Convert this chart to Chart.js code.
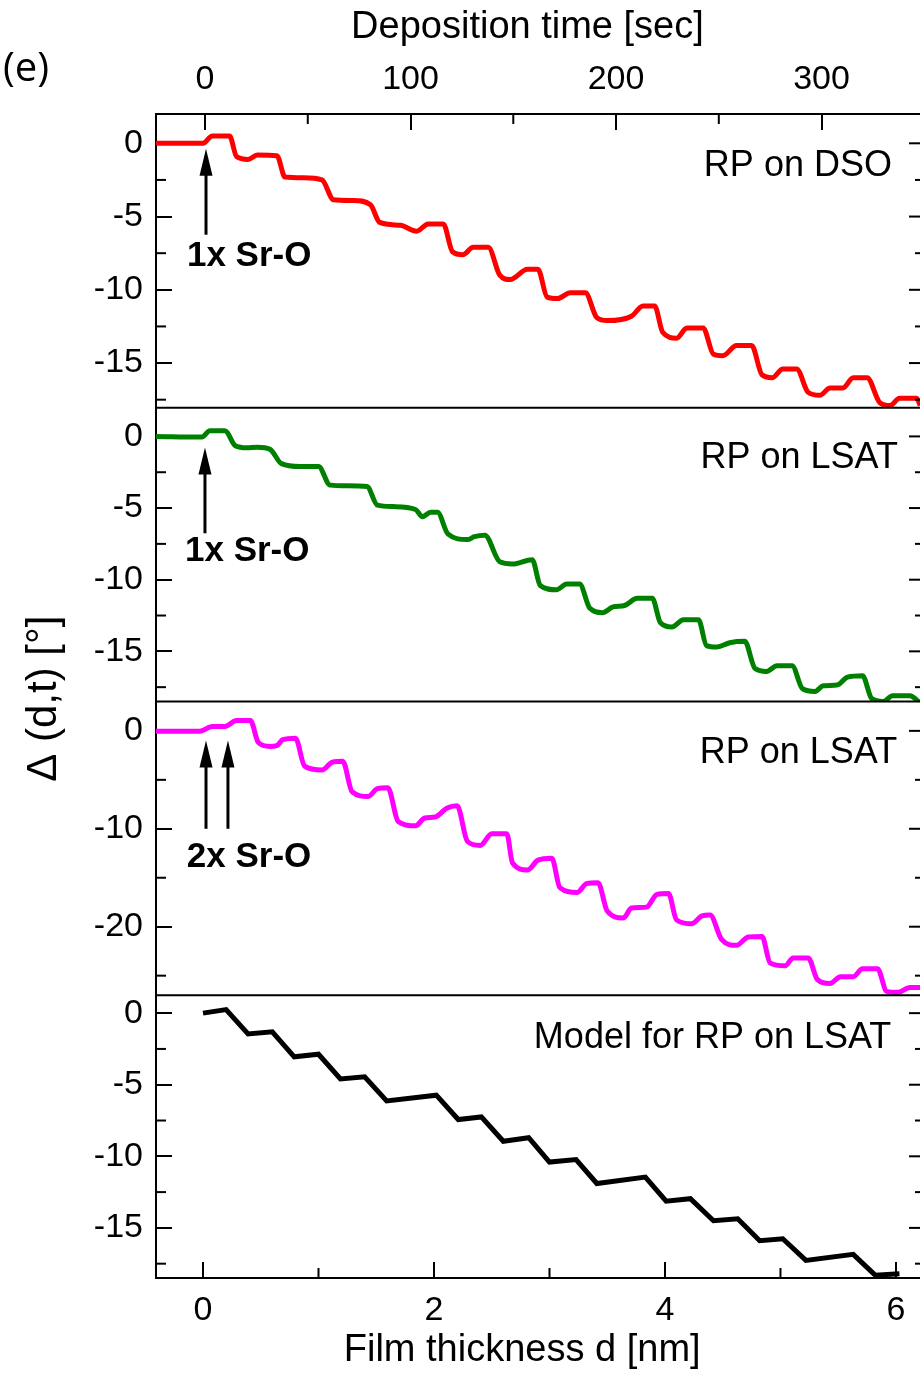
<!DOCTYPE html>
<html>
<head>
<meta charset="utf-8">
<title>Delta(d,t) during RP growth</title>
<script src="https://cdn.jsdelivr.net/npm/chart.js@4.4.1/dist/chart.umd.min.js"></script>
<style>
  html, body { margin: 0; padding: 0; background: #fff; }
  canvas { display: block; }
</style>
</head>
<body>
<canvas id="deltaChart" width="920" height="1374"></canvas>
<script>
// film thickness d [nm] -> Delta [deg]
const dsoX = [-0.41, 0.00, 0.08, 0.23, 0.29, 0.39, 0.47, 0.64, 0.71, 0.87, 1.03, 1.13, 1.30, 1.45, 1.53, 1.71, 1.85, 1.95, 2.08, 2.16,
  2.25, 2.34, 2.47, 2.57, 2.66, 2.81, 2.90, 2.98, 3.07, 3.18, 3.31, 3.41, 3.50, 3.71, 3.81, 3.91, 3.98, 4.10, 4.19, 4.33,
  4.42, 4.50, 4.62, 4.75, 4.84, 4.93, 5.02, 5.14, 5.24, 5.34, 5.43, 5.54, 5.63, 5.75, 5.86, 5.95, 6.03, 6.18, 6.21];
const dsoY = [0, 0, 0.5, 0.5, -0.9, -1.1, -0.8, -0.85, -2.3, -2.35, -2.5, -3.85, -3.9, -4.2, -5.4, -5.6, -6.0, -5.5, -5.5, -7.4,
  -7.6, -7.1, -7.1, -9.0, -9.3, -8.6, -8.6, -10.5, -10.6, -10.2, -10.2, -11.9, -12.1, -11.8, -11.1, -11.1, -12.9, -13.3, -12.6, -12.6,
  -14.4, -14.5, -13.8, -13.8, -15.8, -16.0, -15.4, -15.4, -17.0, -17.2, -16.7, -16.7, -16.0, -16.0, -17.7, -17.9, -17.4, -17.4, -17.9];

const lsatX = [-0.41, -0.01, 0.06, 0.19, 0.28, 0.38, 0.47, 0.58, 0.68, 0.84, 1.00, 1.10, 1.25, 1.42, 1.51, 1.65, 1.84, 1.90, 1.97, 2.03,
  2.12, 2.29, 2.35, 2.44, 2.57, 2.68, 2.85, 2.92, 3.06, 3.15, 3.26, 3.35, 3.46, 3.55, 3.65, 3.76, 3.89, 3.96, 4.06, 4.16,
  4.29, 4.36, 4.45, 4.56, 4.69, 4.78, 4.88, 4.97, 5.10, 5.19, 5.30, 5.37, 5.49, 5.58, 5.71, 5.79, 5.89, 5.97, 6.12, 6.21];
const lsatY = [0, -0.05, 0.4, 0.4, -0.65, -0.8, -0.75, -0.9, -1.9, -2.1, -2.1, -3.4, -3.45, -3.5, -4.8, -4.9, -5.1, -5.6, -5.3, -5.3,
  -6.8, -7.2, -7.0, -6.9, -8.75, -8.9, -8.6, -10.4, -10.7, -10.3, -10.3, -12.0, -12.3, -11.9, -11.8, -11.3, -11.3, -13.0, -13.3, -12.8,
  -12.8, -14.6, -14.7, -14.4, -14.3, -16.2, -16.4, -16.0, -16.0, -17.6, -17.8, -17.4, -17.35, -16.8, -16.7, -18.3, -18.5, -18.1, -18.1, -18.6];

const lsat2X = [-0.41, -0.03, 0.08, 0.19, 0.29, 0.41, 0.48, 0.58, 0.64, 0.69, 0.80, 0.88, 1.03, 1.12, 1.21, 1.29, 1.43, 1.51, 1.60, 1.69,
  1.84, 1.92, 2.01, 2.11, 2.20, 2.29, 2.40, 2.50, 2.63, 2.68, 2.81, 2.90, 3.02, 3.09, 3.24, 3.32, 3.42, 3.50, 3.64, 3.71,
  3.84, 3.93, 4.03, 4.10, 4.23, 4.32, 4.39, 4.49, 4.62, 4.72, 4.84, 4.91, 5.04, 5.11, 5.24, 5.32, 5.43, 5.52, 5.63, 5.71,
  5.84, 5.92, 6.02, 6.12, 6.21];
const lsat2Y = [-0.05, -0.05, 0.45, 0.45, 1.05, 1.05, -1.2, -1.6, -1.5, -0.9, -0.75, -3.6, -4.0, -3.2, -3.1, -6.2, -6.7, -5.9, -5.8, -9.25,
  -9.7, -8.9, -8.8, -7.9, -7.65, -11.3, -11.7, -10.5, -10.5, -13.5, -14.2, -13.2, -13.0, -16.0, -16.5, -15.6, -15.5, -18.4, -19.1, -18.1,
  -18.0, -16.7, -16.6, -19.3, -19.7, -18.9, -18.8, -21.3, -21.9, -21.05, -21.0, -23.7, -24.0, -23.2, -23.2, -25.4, -25.8, -25.1, -25.1, -24.3,
  -24.3, -26.6, -26.7, -26.2, -26.2];

const modelX = [0, 0.2, 0.39, 0.6, 0.79, 1.0, 1.19, 1.4, 1.59, 2.02, 2.21, 2.41, 2.6, 2.82, 3.0, 3.23, 3.41, 3.83, 4.01, 4.22,
  4.42, 4.63, 4.82, 5.02, 5.22, 5.63, 5.82, 6.03];
const modelY = [0, 0.25, -1.45, -1.3, -3.05, -2.87, -4.6, -4.45, -6.13, -5.73, -7.43, -7.25, -8.95, -8.7, -10.4, -10.23, -11.9, -11.45, -13.13, -12.96,
  -14.5, -14.36, -15.9, -15.76, -17.27, -16.85, -18.3, -18.2];

// tick values
const thicknessTicks = [0, 2, 4, 6];
const thicknessMinor = [1, 3, 5];
const timeTicks = [0, 100, 200, 300];
const timeMinor = [50, 150, 250];
const panelTicks = [[0, -5, -10, -15], [0, -5, -10, -15], [0, -10, -20], [0, -5, -10, -15]];
const panelMinor = [[-2.5, -7.5, -12.5, -17.5], [-2.5, -7.5, -12.5, -17.5], [-5, -15, -25], [-2.5, -7.5, -12.5, -17.5]];
const panelNames = ['RP on DSO', 'RP on LSAT', 'RP on LSAT', 'Model for RP on LSAT'];

// panel layout: y ranges and relative heights
const panelIds = ['y1', 'y2', 'y3', 'y4'];
const panelRange = [[-18.05, 2], [-18.5, 2], [-27, 3], [-18.5, 1.25]];
const panelHeight = [294, 294, 294, 283];

// where the labels and arrows sit (data coordinates)
const nameSpots = [{x: 5.965, y: -1.57}, {x: 6.017, y: -1.53}, {x: 6.01, y: -2.24}, {x: 5.96, y: -1.77}];
const layerNotes = [
  {axis: 'y1', text: '1x Sr-O', x: -0.139, y: -7.74},
  {axis: 'y2', text: '1x Sr-O', x: -0.156, y: -8.01},
  {axis: 'y3', text: '2x Sr-O', x: -0.14, y: -12.9}
];
const arrows = [
  {axis: 'y1', x: 0.026, from: -6.24, to: -0.38},
  {axis: 'y2', x: 0.017, from: -6.76, to: -0.77},
  {axis: 'y3', x: 0.026, from: -10.0, to: -0.99},
  {axis: 'y3', x: 0.216, from: -10.0, to: -0.99}
];

const pts = (xs, ys) => xs.map((x, i) => ({x: x, y: ys[i]}));

Chart.defaults.font.family = "'Liberation Sans', Arial, sans-serif";
Chart.defaults.color = '#000';

const BLACK = '#000';

// inward major ticks come from the axes themselves (negative tickLength)
function gridOpts() {
  return {drawOnChartArea: false, drawTicks: true, tickLength: -16, lineWidth: 2, color: BLACK};
}
const borderOpts = {display: true, width: 2, color: BLACK};

// fixed box sizes so the plot area lands where it is in the figure
function fixSize(w, h) {
  return s => {
    if (w !== null) s.width = w;
    if (h !== null) s.height = h;
    s.paddingLeft = 0; s.paddingRight = 0; s.paddingTop = 0; s.paddingBottom = 0;
  };
}

const scales = {
  x: {
    type: 'linear', position: 'bottom',
    min: -0.407, max: 6.208,
    afterBuildTicks: s => { s.ticks = thicknessTicks.map(v => ({value: v})); },
    afterFit: fixSize(null, 96),
    ticks: {font: {size: 34}, padding: 28, maxRotation: 0, minRotation: 0, autoSkip: false},
    grid: gridOpts(), border: borderOpts,
    title: {display: true, text: 'Film thickness d [nm]   ', font: {size: 38}, padding: {top: 0, bottom: 1}}
  },
  x2: {
    type: 'linear', position: 'top',
    min: -23.85, max: 347.9,
    afterBuildTicks: s => { s.ticks = timeTicks.map(v => ({value: v})); },
    afterFit: fixSize(null, 114),
    ticks: {font: {size: 34}, padding: 30, maxRotation: 0, minRotation: 0, autoSkip: false},
    grid: gridOpts(), border: borderOpts,
    title: {display: true, text: 'Deposition time [sec]  ', font: {size: 38}, padding: {top: 5, bottom: 0}}
  }
};
panelIds.forEach((id, i) => {
  scales[id] = {
    type: 'linear', position: 'left',
    stack: 'panels', stackWeight: panelHeight[i], weight: 10 - i,
    min: panelRange[i][0], max: panelRange[i][1],
    afterBuildTicks: s => { s.ticks = panelTicks[i].map(v => ({value: v})); },
    afterFit: fixSize(78, null),
    ticks: {font: {size: 34}, padding: 29},
    grid: gridOpts(), border: borderOpts
  };
});

// minor ticks, mirrored right ticks, panel separators, labels and arrows
const framePlugin = {
  id: 'frame',
  afterDraw(chart) {
    const ctx = chart.ctx;
    const area = chart.chartArea;
    const line = (x1, y1, x2, y2) => { ctx.beginPath(); ctx.moveTo(x1, y1); ctx.lineTo(x2, y2); ctx.stroke(); };
    ctx.save();
    ctx.strokeStyle = BLACK;
    ctx.lineWidth = 2;

    panelIds.forEach((id, i) => {
      const s = chart.scales[id];
      if (i > 0) line(area.left, s.top, area.right, s.top);
      panelMinor[i].forEach(v => {
        const y = s.getPixelForValue(v);
        line(area.left, y, area.left + 10, y);
        line(area.right - 5, y, area.right, y);
      });
      panelTicks[i].forEach(v => {
        const y = s.getPixelForValue(v);
        line(area.right - 11, y, area.right, y);
      });
    });
    thicknessMinor.forEach(v => {
      const x = chart.scales.x.getPixelForValue(v);
      line(x, area.bottom, x, area.bottom - 10);
    });
    timeMinor.forEach(v => {
      const x = chart.scales.x2.getPixelForValue(v);
      line(x, area.top, x, area.top + 10);
    });

    const sx = chart.scales.x;
    // sample names
    ctx.fillStyle = BLACK;
    ctx.font = "36px 'Liberation Sans', Arial, sans-serif";
    ctx.textAlign = 'right';
    ctx.textBaseline = 'middle';
    panelIds.forEach((id, i) => {
      ctx.fillText(panelNames[i], sx.getPixelForValue(nameSpots[i].x), chart.scales[id].getPixelForValue(nameSpots[i].y));
    });

    // Sr-O layer notes
    ctx.font = "bold 35px 'Liberation Sans', Arial, sans-serif";
    ctx.textAlign = 'left';
    layerNotes.forEach(n => {
      ctx.fillText(n.text, sx.getPixelForValue(n.x), chart.scales[n.axis].getPixelForValue(n.y));
    });

    // arrows
    arrows.forEach(a => {
      const x = sx.getPixelForValue(a.x);
      const yBase = chart.scales[a.axis].getPixelForValue(a.from);
      const yTip = chart.scales[a.axis].getPixelForValue(a.to);
      ctx.lineWidth = 3;
      line(x, yBase, x, yTip + 20);
      ctx.beginPath();
      ctx.moveTo(x, yTip);
      ctx.lineTo(x - 6.5, yTip + 27);
      ctx.lineTo(x + 6.5, yTip + 27);
      ctx.closePath();
      ctx.fill();
    });

    // panel letter
    ctx.font = "40px 'Open Sans', sans-serif";
    ctx.textAlign = 'left';
    ctx.fillText('(e)', 3, 70);
    ctx.restore();
  }
};

function trace(data, color, axis, smooth) {
  return {
    data: data, xAxisID: 'x', yAxisID: axis,
    borderColor: color, backgroundColor: color, borderWidth: 5,
    pointRadius: 0, fill: false,
    borderJoinStyle: smooth ? 'round' : 'miter',
    cubicInterpolationMode: smooth ? 'monotone' : 'default'
  };
}

const ctx = document.getElementById('deltaChart').getContext('2d');
const deltaChart = new Chart(ctx, {
  type: 'line',
  data: {
    datasets: [
      trace(pts(dsoX, dsoY), '#ff0000', 'y1', true),
      trace(pts(lsatX, lsatY), '#008000', 'y2', true),
      trace(pts(lsat2X, lsat2Y), '#ff00ff', 'y3', true),
      trace(pts(modelX, modelY), '#000000', 'y4', false)
    ]
  },
  options: {
    responsive: false,
    animation: false,
    layout: {padding: 0},
    plugins: {
      legend: {display: false},
      tooltip: {enabled: false},
      title: {
        display: true, position: 'left',
        text: 'Δ (d,t) [°]  ',
        font: {size: 42, weight: 'normal'},
        color: BLACK,
        padding: {top: 19, bottom: 8.6}
      }
    },
    scales: scales
  },
  plugins: [framePlugin]
});
</script>
</body>
</html>
